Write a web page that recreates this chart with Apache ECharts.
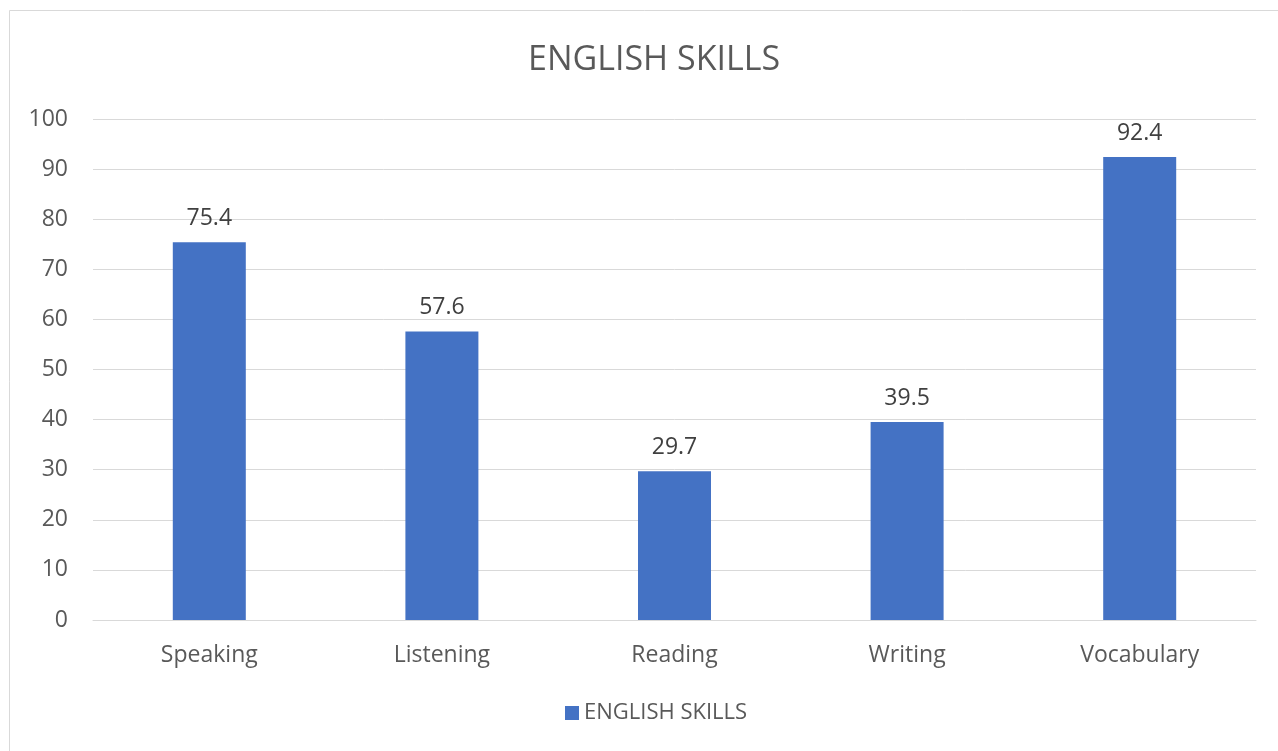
<!DOCTYPE html>
<html>
<head>
<meta charset="utf-8">
<script src="https://cdn.jsdelivr.net/npm/echarts@6/dist/echarts.min.js"></script>
<style>
  html, body { margin: 0; padding: 0; background: #fff; }
  #chart { width: 1278px; height: 751px; }
</style>
</head>
<body>
<div id="chart"></div>
<script>
const categories = ['Speaking', 'Listening', 'Reading', 'Writing', 'Vocabulary']
const scores = [75.4, 57.6, 29.7, 39.5, 92.4]
const seriesName = 'ENGLISH SKILLS'

const chart = echarts.init(document.getElementById('chart'))

const option = {
  backgroundColor: '#fff',
  textStyle: { fontFamily: 'Open Sans' },
  title: {
    text: 'ENGLISH SKILLS',
    left: 523,
    top: 38,
    textStyle: { color: '#595959', fontSize: 34, fontWeight: 'normal', fontFamily: 'Open Sans' }
  },
  graphic: [{
    type: 'rect',
    shape: { x: 9.5, y: 10.5, width: 1300, height: 800 },
    style: { fill: 'none', stroke: '#d9d9d9', lineWidth: 1 },
    silent: true
  }],
  legend: {
    data: [seriesName],
    bottom: 22,
    left: 560,
    itemWidth: 14,
    itemHeight: 14,
    icon: 'rect',
    itemGap: 8,
    textStyle: { color: '#595959', fontSize: 22 }
  },
  grid: {
    left: 93,
    right: 22,
    top: 119,
    bottom: 131
  },
  xAxis: {
    type: 'category',
    data: categories,
    axisLine: { lineStyle: { color: '#d9d9d9', width: 1 } },
    axisTick: { show: false },
    axisLabel: { color: '#595959', fontSize: 23, margin: 24 }
  },
  yAxis: {
    type: 'value',
    min: 0,
    max: 100,
    interval: 10,
    axisLine: { show: false },
    axisTick: { show: false },
    axisLabel: { color: '#595959', fontSize: 23, margin: 25 },
    splitLine: { lineStyle: { color: '#d9d9d9', width: 1 } }
  },
  series: [{
    name: seriesName,
    type: 'bar',
    data: scores,
    barWidth: 73,
    itemStyle: { color: '#4472c4' },
    label: {
      show: true,
      position: 'top',
      distance: 12,
      color: '#404040',
      fontSize: 23
    }
  }]
}

chart.setOption(option)
</script>
</body>
</html>
